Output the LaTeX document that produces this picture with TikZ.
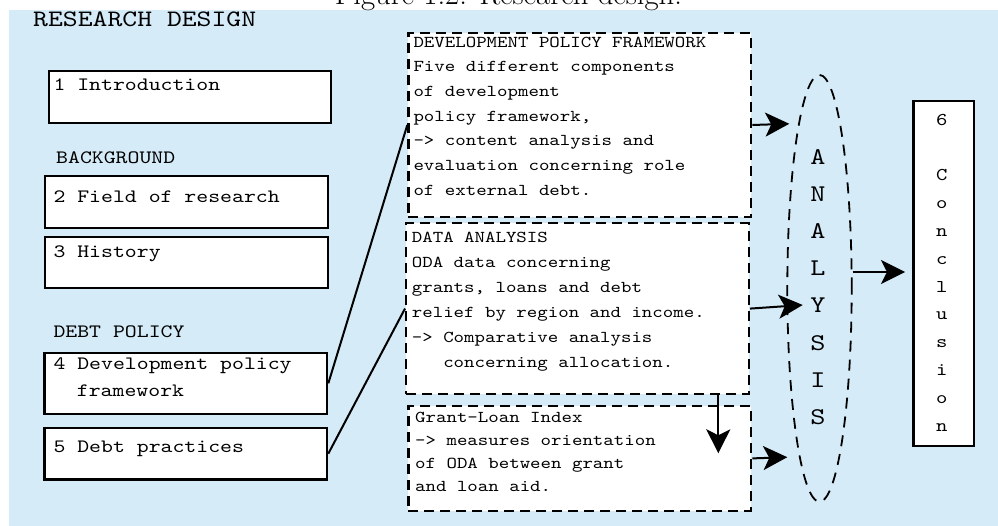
\documentclass[tikz,border=0pt]{standalone}
\usepackage{fontspec}
\newfontfamily\cour{lmmono10-regular.otf}[FakeStretch=1.2]
\usetikzlibrary{arrows.meta,shapes.geometric}
\definecolor{bgblue}{RGB}{213,236,248}
\tikzset{
  sbox/.style={draw=black, fill=white, line width=2.3pt, inner sep=0pt, anchor=north west},
  dbox/.style={draw=black, fill=white, line width=2.3pt, dash pattern=on 10pt off 6pt, inner sep=0pt, anchor=north west},
  lbl/.style={anchor=base west, inner sep=0pt, font=\cour\fontsize{18.9}{27.4}\selectfont},
  dtxt/.style={anchor=north west, inner sep=0pt, align=left},
  arr/.style={line width=2pt, -{Stealth[length=24pt,width=24pt,inset=6pt]}},
  conn/.style={line width=2pt},
}
\begin{document}
\begin{tikzpicture}[x=1pt,y=-1pt]
\useasboundingbox (0,0) rectangle (998,526);
\fill[bgblue] (9,10) rectangle (998,526);
\node[anchor=base, inner sep=0pt, font=\fontsize{30.7}{36}\selectfont] (fig) at (508.5,5) {Figure 1.2: Research design.};

% left column
\node[lbl, font=\cour\fontsize{23.6}{28}\selectfont] (rd) at (33,26.7) {RESEARCH DESIGN};
\node[sbox, minimum width=282.3pt, minimum height=51.7pt] (b1) at (47.7,70) {};
\node[lbl] (t1) at (53.3,90.7) {1 Introduction};
\node[lbl] (bg) at (56,163.3) {BACKGROUND};
\node[sbox, minimum width=282.7pt, minimum height=51.7pt] (b2) at (44,175) {};
\node[lbl] (t2) at (53.3,202.3) {2 Field of research};
\node[sbox, minimum width=282.7pt, minimum height=51pt] (b3) at (44,235.7) {};
\node[lbl] (t3) at (53.3,257.7) {3 History};
\node[lbl] (dp) at (53.3,337.3) {DEBT POLICY};
\node[sbox, minimum width=282.7pt, minimum height=61pt] (b4) at (43.3,351.7) {};
\node[lbl] (t4a) at (53.3,370) {4 Development policy};
\node[lbl] (t4b) at (76.7,396.7) {framework};
\node[sbox, minimum width=282.7pt, minimum height=51.6pt] (b5) at (43.3,426.7) {};
\node[lbl] (t5) at (53.3,452.7) {5 Debt practices};

% dashed boxes
\node[dbox, minimum width=342.7pt, minimum height=184.3pt] (dpf) at (407.3,31.7) {};
\node[dtxt, font=\cour\fontsize{16.6}{24.7}\selectfont] (dpft) at (413.3,36.6)
  {DEVELOPMENT POLICY FRAMEWORK\\Five different components\\of development\\policy framework,\\-> content analysis and\\evaluation concerning role\\of external debt.};
\node[dbox, minimum width=342.7pt, minimum height=170.5pt] (da) at (405,222.2) {};
\node[dtxt, font=\cour\fontsize{16.6}{25}\selectfont] (dat) at (411.7,232.2)
  {DATA ANALYSIS\\ODA data concerning\\grants, loans and debt\\relief by region and income.\\-> Comparative analysis\\\phantom{-> }concerning allocation.};
\node[dbox, minimum width=342.7pt, minimum height=104.5pt] (gl) at (407.3,405) {};
\node[dtxt, font=\cour\fontsize{16.6}{23}\selectfont] (glt) at (415,411.9)
  {Grant-Loan Index\\-> measures orientation\\of ODA between grant\\and loan aid.};

% analysis ellipse
\node[draw, ellipse, line width=1.8pt, dash pattern=on 11pt off 8pt, minimum width=64.4pt, minimum height=426.7pt, inner sep=0pt] (ell) at (819.5,288.3) {};
\node[inner sep=0pt, align=center, font=\cour\fontsize{24}{37.2}\selectfont] (an) at (818,286.9) {A\\N\\A\\L\\Y\\S\\I\\S};

% conclusion
\node[sbox, minimum width=60.4pt, minimum height=345pt] (cb) at (912.3,100) {};
\node[inner sep=0pt, align=center, anchor=north, font=\cour\fontsize{18}{27.8}\selectfont] (ct) at (941.7,114.5) {6\\[27.2pt]C\\o\\n\\c\\l\\u\\s\\i\\o\\n};

% connectors
\coordinate (e1) at (789.3,123.8);
\coordinate (e2) at (802.7,305);
\coordinate (e3) at (787.3,457.2);
\coordinate (e4) at (905,272);
\coordinate (e5) at (718.3,453.3);
\draw[conn] (b4.east) -- (dpf.west);
\draw[conn] (b5.east) -- (da.west);
\draw[arr] (dpf.east) -- (e1);
\draw[arr] (da.east) -- (e2);
\draw[arr] (gl.east) -- (e3);
\draw[arr] (ell.east |- e4) -- (e4);
\draw[arr] (da.south -| e5) -- (e5);
\end{tikzpicture}
\end{document}
